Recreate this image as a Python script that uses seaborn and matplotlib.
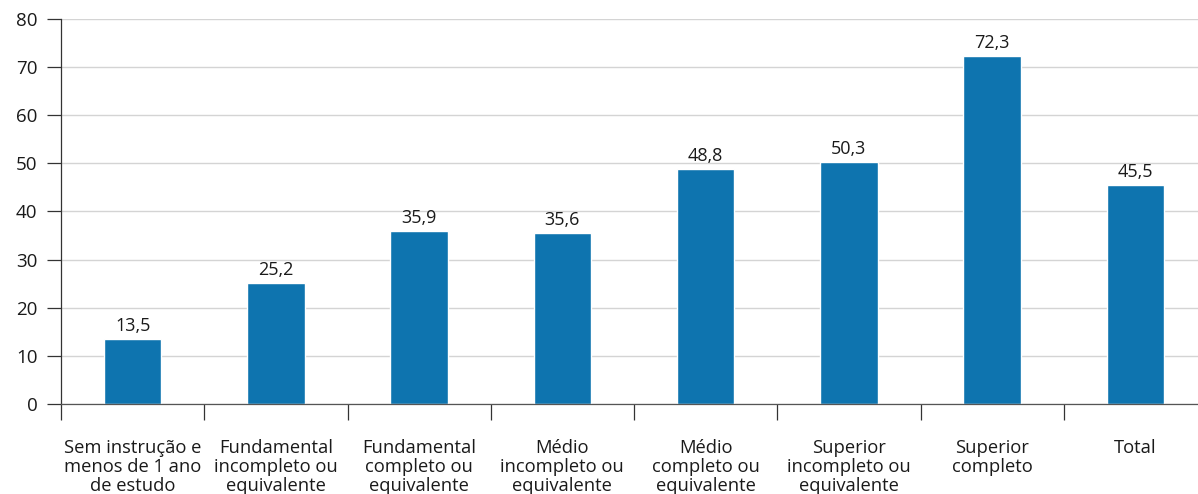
import numpy as np
import pandas as pd
import seaborn as sns
import matplotlib.pyplot as plt
from matplotlib.ticker import FixedLocator

# Data
categories = [
    'Sem instrução e\nmenos de 1 ano\nde estudo',
    'Fundamental\nincompleto ou\nequivalente',
    'Fundamental\ncompleto ou\nequivalente',
    'Médio\nincompleto ou\nequivalente',
    'Médio\ncompleto ou\nequivalente',
    'Superior\nincompleto ou\nequivalente',
    'Superior\ncompleto',
    'Total',
]
values = [13.5, 25.2, 35.9, 35.6, 48.8, 50.3, 72.3, 45.5]
yticks = [0, 10, 20, 30, 40, 50, 60, 70, 80]

df = pd.DataFrame({'categoria': categories, 'valor': values})

sns.set_style('white')
plt.rcParams['font.family'] = ['Open Sans', 'DejaVu Sans']

fig = plt.figure(figsize=(11.98, 4.94), dpi=100)
ax = fig.add_axes([61 / 1198, 1 - 404 / 494, 1146 / 1198, 385 / 494])

sns.barplot(data=df, x='categoria', y='valor', color='#0e74af',
            width=0.4, saturation=1, ax=ax)

ax.set_xlim(-0.5, 7.5)
ax.set_ylim(0, 80)
ax.set_yticks(yticks)
ax.set_yticklabels([str(t) for t in yticks], fontsize=13.5, color='#1a1a1a')
ax.yaxis.grid(True, color='#d4d4d4', linewidth=1)
ax.set_axisbelow(True)

# Category separators below the baseline
ax.xaxis.set_minor_locator(FixedLocator(np.arange(-0.5, 8, 1)))
ax.tick_params(axis='x', which='minor', bottom=True, length=11.5, width=0.9,
               color='#333333', direction='out')
ax.tick_params(axis='x', which='major', bottom=False, length=0, pad=25,
               labelsize=13.2, labelcolor='#1a1a1a')
ax.tick_params(axis='y', which='major', left=True, length=10, width=0.9,
               color='#333333', direction='out', pad=7)
for lbl in ax.get_xticklabels():
    lbl.set_linespacing(1.08)
    lbl.set_verticalalignment('top')

for side in ['top', 'right']:
    ax.spines[side].set_visible(False)
ax.spines['left'].set_color('#333333')
ax.spines['left'].set_linewidth(0.9)
ax.spines['bottom'].set_color('#555555')
ax.spines['bottom'].set_linewidth(0.9)

ax.set_xlabel('')
ax.set_ylabel('')

# Value labels
for container in ax.containers:
    ax.bar_label(container, labels=[f'{v:.1f}'.replace('.', ',') for v in container.datavalues],
                 padding=3, fontsize=13, color='#1a1a1a')

fig.savefig('out.png', dpi=100)
